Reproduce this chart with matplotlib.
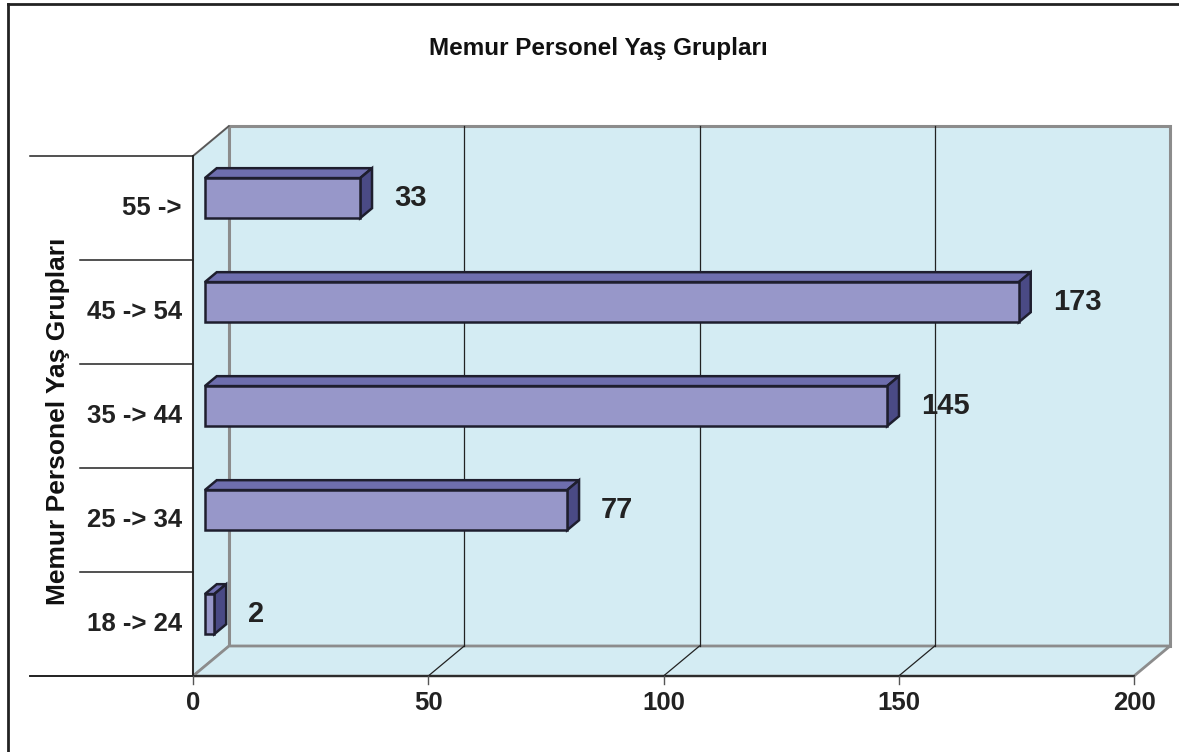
import matplotlib.pyplot as plt
from matplotlib.patches import Polygon

categories = ['18 -> 24', '25 -> 34', '35 -> 44', '45 -> 54', '55 ->']
values = [2, 77, 145, 173, 33]
x_ticks = [0, 50, 100, 150, 200]
title = 'Memur Personel Yaş Grupları'
y_label = 'Memur Personel Yaş Grupları'

plt.rcParams['font.family'] = ['Liberation Sans', 'DejaVu Sans']
plt.rcParams['font.weight'] = 'bold'

W, H = 1179, 752
fig = plt.figure(figsize=(W / 100, H / 100), dpi=100)

# front plane of the plot area in pixels
px0, px1, pyb, pyt = 193, 1134, 676, 156
ax = fig.add_axes([px0 / W, 1 - pyb / H, (px1 - px0) / W, (pyb - pyt) / H])
xmax = x_ticks[-1]
n = len(categories)
ax.set_xlim(0, xmax)
ax.set_ylim(-0.5, n - 0.5)
ax.axis('off')

sx = (px1 - px0) / xmax     # pixels per value unit
sy = (pyb - pyt) / n        # pixels per category
DX = 36 / sx                # depth offset
DY = 30 / sy

wall = '#d4ecf3'
edge_gray = '#8c8c8c'
bot, top = -0.5, n - 0.5

def poly(pts, fc, ec, lw, z):
    ax.add_patch(Polygon(pts, closed=True, facecolor=fc, edgecolor=ec,
                         linewidth=lw, zorder=z, clip_on=False))

# walls
poly([(DX, bot + DY), (xmax + DX, bot + DY), (xmax + DX, top + DY), (DX, top + DY)],
     wall, edge_gray, 2.2, 1)
poly([(0, bot), (DX, bot + DY), (DX, top + DY), (0, top)], wall, edge_gray, 1.5, 1)
poly([(0, bot), (xmax, bot), (xmax + DX, bot + DY), (DX, bot + DY)], wall, edge_gray, 2, 1)

# gridlines on back wall and floor
for v in x_ticks[1:-1]:
    ax.plot([v + DX, v + DX], [bot + DY, top + DY], color='#222222', lw=0.9, zorder=2, clip_on=False)
    ax.plot([v, v + DX], [bot, bot + DY], color='#222222', lw=0.9, zorder=2, clip_on=False)
ax.plot([0, DX], [top, top + DY], color='#555555', lw=1, zorder=2, clip_on=False)

# axes lines
ax.plot([0, 0], [bot, top], color='#222222', lw=1.3, zorder=3, clip_on=False)
ax.plot([(30 - px0) / sx, xmax], [bot, bot], color='#222222', lw=1.3, zorder=3, clip_on=False)
for k in range(n + 1):
    yk = bot + k
    start = (30 - px0) / sx if k in (0, n) else (80 - px0) / sx
    ax.plot([start, 0], [yk, yk], color='#222222', lw=1.1, zorder=3, clip_on=False)

# x ticks
for v in x_ticks:
    ax.plot([v, v], [bot, bot - 8 / sy], color='#555555', lw=1, zorder=3, clip_on=False)
    ax.text(v, bot - 27 / sy, str(v), ha='center', va='center', fontsize=18.5,
            fontweight='bold', color='#222222')

# category labels
for i, c in enumerate(categories):
    ax.text((182 - px0) / sx, i, c, ha='right', va='center', fontsize=18.5,
            fontweight='bold', color='#222222')

# bars
f0, f1 = 0.33, 0.66
bh = 0.385
front_c = '#9797c9'
top_c = '#6e6eae'
side_c = '#4a4a85'
d, e = (f1 - f0) * DX, (f1 - f0) * DY
for i, v in enumerate(values):
    a = f0 * DX
    y0 = i - bh / 2 + f0 * DY
    y1 = i + bh / 2 + f0 * DY
    poly([(a, y1), (a + v, y1), (a + v + d, y1 + e), (a + d, y1 + e)], top_c, '#1e1e2e', 1.8, 5)
    poly([(a + v, y0), (a + v + d, y0 + e), (a + v + d, y1 + e), (a + v, y1)], side_c, '#1e1e2e', 1.8, 5)
    poly([(a, y0), (a + v, y0), (a + v, y1), (a, y1)], front_c, '#1e1e2e', 1.8, 6)
    ax.text(a + v + 34 / sx, (y0 + y1) / 2, str(v), ha='left', va='center',
            fontsize=21, fontweight='bold', color='#222222')

# title and axis label
fig.text(598 / W, 1 - 48 / H, title, ha='center', va='center', fontsize=17.5,
         fontweight='bold', color='#111111')
fig.text(58 / W, 1 - 421 / H, y_label, ha='center', va='center', rotation=90,
         fontsize=19, fontweight='bold', color='#111111')

# chart frame (left and top only visible)
fig.add_artist(plt.Line2D([8 / W, 8 / W], [0, 1 - 4 / H], color='#222222', lw=2))
fig.add_artist(plt.Line2D([8 / W, 1], [1 - 4 / H, 1 - 4 / H], color='#222222', lw=2))

fig.savefig('out.png', dpi=100, facecolor='white')
